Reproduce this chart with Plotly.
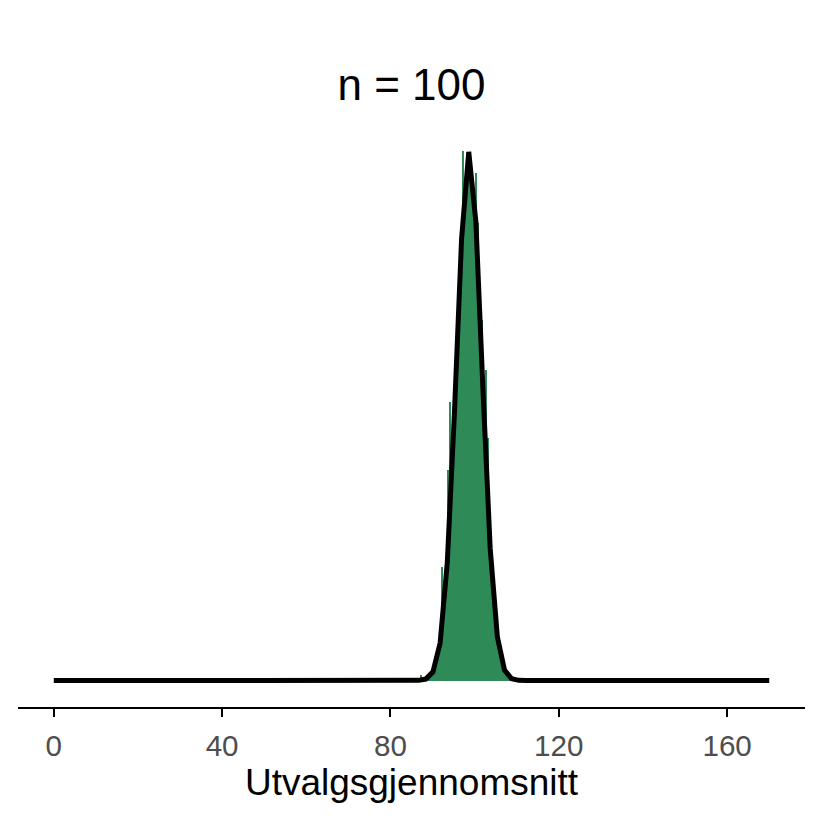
import plotly.graph_objects as go

# Histogram of sample means (bin centres, bin width 0.5) — density scale
bin_centers = [87.25, 87.75, 88.25, 88.75, 89.25, 89.75, 90.25, 90.75, 91.25, 91.75,
               92.25, 92.75, 93.25, 93.75, 94.25, 94.75, 95.25, 95.75, 96.25, 96.75,
               97.25, 97.75, 98.25, 98.75, 99.25, 99.75, 100.25, 100.75, 101.25, 101.75,
               102.25, 102.75, 103.25, 103.75, 104.25, 104.75, 105.25, 105.75, 106.25, 106.75,
               107.25, 107.75, 108.25, 108.75, 109.25]
bin_heights = [0.0015, 0.0005, 0.0008, 0.0010, 0.0012, 0.0018, 0.0028, 0.0045, 0.0065, 0.0095,
               0.0286, 0.018, 0.026, 0.053, 0.070, 0.055, 0.068, 0.080, 0.094, 0.107,
               0.133, 0.122, 0.128, 0.130, 0.126, 0.121, 0.1276, 0.115, 0.098, 0.0906,
               0.070, 0.078, 0.061, 0.0387, 0.026, 0.020, 0.013, 0.009, 0.006, 0.004,
               0.0025, 0.0015, 0.001, 0.0005, 0.0004]
bin_width = 0.5

# Normal density curve (vertices)
curve_x = [0, 85.0, 86.7, 88.4, 90.1, 91.8, 93.5, 95.2, 96.9, 98.6, 100.3, 102.0,
           103.7, 105.4, 107.1, 108.8, 110.5, 112.2, 170]
curve_y = [0, 0, 0.00005, 0.00037, 0.00218, 0.00944, 0.0296, 0.0673, 0.111, 0.1329,
           0.1153, 0.0726, 0.0332, 0.011, 0.00264, 0.00046, 0.00005, 0, 0]

tick_vals = [0, 40, 80, 120, 160]
tick_text = ["0", "40", "80", "120", "160"]

title_text = "n = 100"
x_title = "Utvalgsgjennomsnitt"

FONT = "Liberation Sans, Arial, sans-serif"

fig = go.Figure()
fig.add_trace(go.Bar(x=bin_centers, y=bin_heights, width=bin_width,
                     marker=dict(color="#2E8B57", line=dict(width=0)),
                     showlegend=False, hoverinfo="skip"))
fig.add_trace(go.Scatter(x=curve_x, y=curve_y, mode="lines",
                         line=dict(color="black", width=5),
                         showlegend=False, hoverinfo="skip"))

ymax = max(max(curve_y), max(bin_heights))
fig.update_layout(
    width=822, height=822,
    margin=dict(l=10, r=25, t=117, b=123),
    paper_bgcolor="white", plot_bgcolor="white",
    bargap=0,
    font=dict(family=FONT, color="black"),
    title=dict(text=title_text, x=0.5, xref="paper", xanchor="center",
               y=1 - 77 / 822, yanchor="middle",
               yref="container", font=dict(size=44, color="black", family=FONT)),
    xaxis=dict(range=[-8.5, 178.5], showgrid=False, zeroline=False,
               showline=True, linecolor="black", linewidth=2,
               ticks="outside", ticklen=8, tickwidth=2, tickcolor="black",
               tickvals=tick_vals, ticktext=tick_text, ticklabelstandoff=3,
               tickfont=dict(size=29.6, color="#4D4D4D", family=FONT),
               title=dict(text=x_title, font=dict(size=37, color="black", family=FONT), standoff=7)),
    yaxis=dict(range=[-0.05 * ymax, 1.05 * ymax], visible=False, showgrid=False, zeroline=False),
)

fig.write_html("out.html")
